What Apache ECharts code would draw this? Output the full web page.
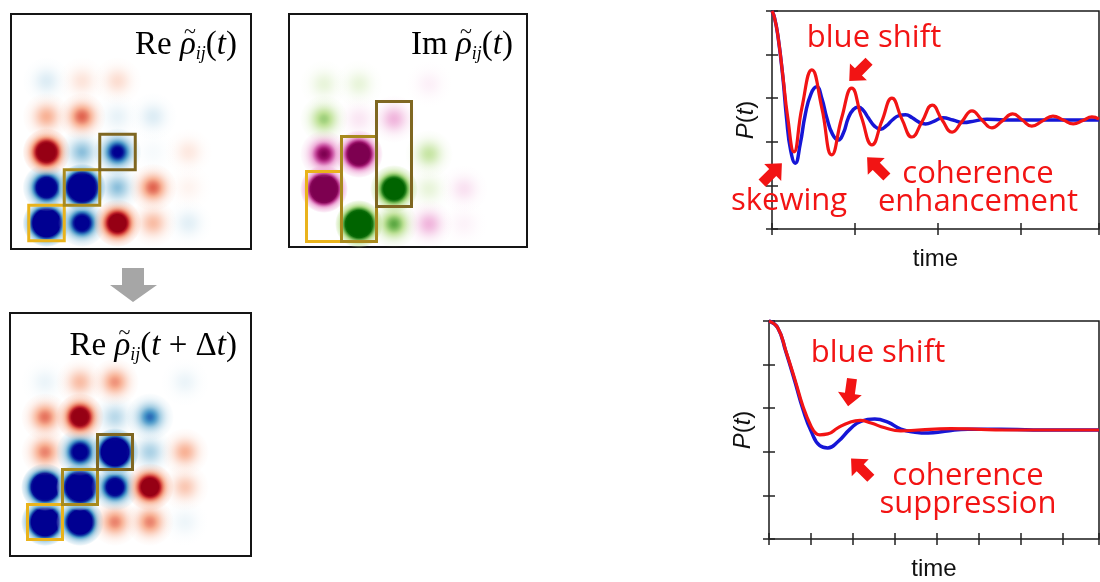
<!DOCTYPE html>
<html>
<head>
<meta charset="utf-8">
<script src="https://cdn.jsdelivr.net/npm/echarts@6/dist/echarts.min.js"></script>
<style>html,body{margin:0;padding:0;background:#fff}#c{width:1100px;height:582px}</style>
</head>
<body>
<div id="c"></div>
<script>
// ---- Data: density-matrix amplitudes, rows listed bottom -> top, columns left -> right ----
// Re rho(t): positive = blue, negative = red
const reNowRows = [
  [4.0, 1.5, -1.7, -0.3, 0.1, 0],
  [2.0, 4.5, 0.4, -0.6, -0.05, 0],
  [-1.9, 0.4, 1.15, 0.03, -0.1, 0],
  [-0.35, -0.6, 0.08, 0.12, 0, 0],
  [0.12, -0.12, -0.15, 0, 0, 0]
];
// Im rho(t): positive = magenta, negative = green
const imNowRows = [
  [0, -3.5, -0.65, 0.3, 0.05, 0],
  [3.5, 0, -2.2, -0.12, 0.12, 0],
  [1.0, 2.3, 0, -0.3, 0, 0],
  [-0.45, 0.1, 0.3, 0, 0, 0],
  [-0.12, -0.12, 0, 0.06, 0, 0]
];
// Re rho(t + dt)
const reNextRows = [
  [4.0, 3.0, -0.5, -0.5, 0.06, 0],
  [3.5, 4.5, 1.6, -1.7, -0.25, 0],
  [-0.5, 1.5, 4.0, 0.3, -0.35, 0],
  [-0.55, -1.6, 0.25, 0.7, 0, 0],
  [0.07, -0.3, -0.45, 0, 0.07, 0]
];
// highlighted cells: [colFrom, rowFrom, colTo, rowTo]
const reBoxes = [[1, 1, 1, 1], [2, 2, 2, 2], [3, 3, 3, 3]];
const imBoxes = [[1, 1, 1, 2], [2, 1, 2, 3], [3, 2, 3, 4]];

// P(t) curves: [time, P]
const topRed = [[0,5.0],[0.03,4.85],[0.07,4.45],[0.13,3.53],[0.19,2.55],[0.265,1.77],[0.36,2.78],[0.48,3.65],[0.60,2.78],[0.72,1.70],[0.84,2.55],[0.96,3.23],[1.08,2.55],[1.205,1.93],[1.325,2.48],[1.445,3.0],[1.565,2.52],[1.687,2.11],[1.81,2.47],[1.93,2.84],[2.05,2.5],[2.17,2.22],[2.29,2.47],[2.41,2.71],[2.53,2.5],[2.65,2.32],[2.775,2.48],[2.90,2.64],[3.015,2.5],[3.13,2.36],[3.26,2.48],[3.385,2.59],[3.51,2.5],[3.63,2.41],[3.745,2.49],[3.855,2.57],[3.94,2.52]];
const topBlue = [[0,5.0],[0.03,4.85],[0.07,4.45],[0.13,3.5],[0.175,2.55],[0.225,1.8],[0.28,1.51],[0.34,1.95],[0.40,2.62],[0.47,3.1],[0.54,3.26],[0.60,3.0],[0.66,2.55],[0.73,2.17],[0.80,2.04],[0.86,2.2],[0.92,2.55],[0.98,2.74],[1.04,2.80],[1.10,2.72],[1.16,2.55],[1.235,2.36],[1.31,2.29],[1.38,2.37],[1.45,2.50],[1.53,2.6],[1.61,2.62],[1.69,2.55],[1.77,2.45],[1.85,2.41],[1.95,2.47],[2.06,2.55],[2.18,2.5],[2.30,2.44],[2.45,2.48],[2.59,2.52],[2.8,2.5],[3.2,2.5],[3.6,2.5],[3.94,2.5]];
const botRed = [[0,5],[0.21,4.84],[0.40,4.32],[0.62,3.65],[0.81,3.04],[1.0,2.59],[1.12,2.42],[1.21,2.39],[1.40,2.41],[1.64,2.55],[1.93,2.68],[2.17,2.72],[2.43,2.66],[2.76,2.55],[3.14,2.48],[3.55,2.50],[3.95,2.52],[4.33,2.53],[4.9,2.52],[5.6,2.5],[6.5,2.5],[7.86,2.5]];
const botBlue = [[0,5],[0.21,4.84],[0.40,4.30],[0.62,3.6],[0.81,2.97],[1.0,2.48],[1.21,2.14],[1.40,2.09],[1.64,2.23],[1.93,2.52],[2.19,2.70],[2.52,2.75],[2.83,2.68],[3.14,2.52],[3.48,2.45],[3.79,2.43],[4.19,2.47],[4.74,2.52],[5.52,2.52],[6.3,2.5],[7.86,2.5]];
const yTicks = [0, 1, 2, 3, 4, 5];

// annotation arrows: [time, P, rotation]
const topArrows = [[1.05, 3.62, 135], [0.0, 1.28, -45], [1.265, 1.42, 45]];
const botArrows = [[1.93, 3.36, 172], [2.19, 1.62, 45]];

// ---- colour maps ----
const CM = {
  blue: [[0,[255,255,255]],[0.15,[222,235,247]],[0.35,[158,202,225]],[0.6,[66,146,198]],[0.8,[20,70,170]],[1,[0,0,145]]],
  red: [[0,[255,255,255]],[0.15,[254,228,214]],[0.35,[248,178,150]],[0.6,[225,100,80]],[0.8,[190,30,40]],[1,[150,0,20]]],
  mag: [[0,[255,255,255]],[0.15,[250,225,240]],[0.35,[238,170,215]],[0.6,[200,80,160]],[0.8,[160,20,110]],[1,[125,0,80]]],
  green: [[0,[255,255,255]],[0.15,[230,245,215]],[0.35,[190,225,150]],[0.6,[110,180,80]],[0.8,[40,130,30]],[1,[0,100,0]]]
};
function cmap(m, I) {
  for (let k = 1; k < m.length; k++) {
    if (I <= m[k][0]) {
      const a = m[k-1], b = m[k], f = (I - a[0]) / (b[0] - a[0]);
      return a[1].map((v, j) => Math.round(v + (b[1][j] - v) * f));
    }
  }
  return m[m.length-1][1];
}
const R = 24, S = 12, N = 14;
function blobGradient(v, pos, neg) {
  const A = Math.abs(v), m = v >= 0 ? pos : neg;
  const stops = [];
  for (let i = 0; i <= N; i++) {
    const t = i / N, r = t * R;
    const I = Math.min(1, A * Math.exp(-(r * r) / (S * S)));
    let rgb, a;
    if (I >= 0.35) { rgb = cmap(m, I); a = 1; } else { rgb = cmap(m, 0.35); a = I / 0.35; }
    if (i === N) a = 0;
    stops.push({ offset: t, color: 'rgba(' + rgb.join(',') + ',' + a.toFixed(3) + ')' });
  }
  return new echarts.graphic.RadialGradient(0.5, 0.5, 0.5, stops);
}
function blobs(rows, pos, neg) {
  const out = [];
  rows.forEach((row, ri) => row.forEach((v, ci) => {
    if (v !== 0) out.push({ value: [ci + 1, ri + 1], itemStyle: { color: blobGradient(v, pos, neg), opacity: 1 } });
  }));
  return out;
}
const boxColors = ['#e9b31c', '#a88a1f', '#7f6722'];
function boxAreas(boxes) {
  return boxes.map((b, i) => [
    { coord: [b[0] - 0.5, b[1] - 0.5], itemStyle: { color: 'rgba(0,0,0,0)', borderColor: boxColors[i], borderWidth: 3, opacity: 1 } },
    { coord: [b[2] + 0.5, b[3] + 0.5] }
  ]);
}

const serif = "'Liberation Serif','DejaVu Serif',serif";
const sans = "'Liberation Sans',Arial,sans-serif";
const annFont = "'Open Sans','Noto Sans',sans-serif";
const RED = '#f21414', BLUE = '#1616d6';

function hiddenAxis(gi, min, max) {
  return { type: 'value', gridIndex: gi, min: min, max: max, show: false };
}
function frameAxis(gi, pos, min, max, name, gap, rich) {
  const isX = pos === 'bottom' || pos === 'top';
  const ax = {
    type: 'value', gridIndex: gi, position: pos, min: min, max: max, interval: 1,
    axisLine: { show: false }, splitLine: { show: false }, axisLabel: { show: false },
    axisTick: { show: true, inside: true, length: 6, lineStyle: { color: '#222', width: 1.5 } }
  };
  if (name) {
    ax.name = name; ax.nameLocation = 'middle'; ax.nameGap = gap;
    ax.nameTextStyle = { fontFamily: sans, fontSize: 24, color: '#111', rich: rich };
    if (!isX) ax.nameRotate = 90;
  }
  return ax;
}
const pRich = {
  i: { fontFamily: sans, fontSize: 24, fontStyle: 'italic', color: '#111' },
  n: { fontFamily: sans, fontSize: 24, color: '#111' }
};
const arrowPath = 'path://M12,0 L24,13 L17,13 L17,28 L7,28 L7,13 L0,13 Z';
function arrowMarks(list) {
  return {
    silent: true, symbol: arrowPath, symbolSize: [24, 28], itemStyle: { color: RED }, label: { show: false },
    data: list.map(a => ({ coord: [a[0], a[1]], symbolRotate: a[2] }))
  };
}
function lineSeries(xi, data, color, w, marks) {
  const s = { type: 'line', xAxisIndex: xi, yAxisIndex: xi, data: data, smooth: 0.5, showSymbol: false, clip: false,
    lineStyle: { color: color, width: w }, itemStyle: { color: color }, silent: true };
  if (marks) s.markPoint = arrowMarks(marks);
  return s;
}

// ---- matrix titles (serif, with tilde over rho) ----
const TS = 33, SS = 18;
const tfont = { r: TS + "px " + serif, i: "italic " + TS + "px " + serif, s: "italic " + SS + "px " + serif };
const titleRich = {
  r: { fontFamily: serif, fontSize: TS, color: '#111' },
  i: { fontFamily: serif, fontSize: TS, fontStyle: 'italic', color: '#111' },
  s: { fontFamily: serif, fontSize: SS, fontStyle: 'italic', color: '#111', padding: [18, 0, 0, 0] }
};
const mctx = document.createElement('canvas').getContext('2d');
function tw(txt, st) { mctx.font = tfont[st]; return mctx.measureText(txt).width; }
function title(xRight, y, tokens) {
  const text = tokens.map(t => '{' + t[1] + '|' + t[0] + '}').join('');
  let after = 0, rhoW = 0;
  for (let k = tokens.length - 1; k >= 0; k--) {
    const w = tw(tokens[k][0], tokens[k][1]);
    if (tokens[k][0] === 'ρ') { rhoW = w; break; }
    after += w;
  }
  const rhoCx = xRight - after - rhoW / 2 + 2;
  return [
    { type: 'text', x: xRight, y: y, z: 20, style: { text: text, rich: titleRich, align: 'right', verticalAlign: 'middle' } },
    { type: 'text', x: rhoCx, y: y - 13, z: 21, style: { text: '~', fill: '#111', fontFamily: serif, fontSize: 22, align: 'center', verticalAlign: 'middle' } }
  ];
}
function ann(x, y, txt) {
  return { type: 'text', x: x, y: y, z: 20, style: { text: txt, fill: RED, fontFamily: annFont, fontSize: 31, lineHeight: 28, align: 'center', verticalAlign: 'middle' } };
}

const option = {
  animation: false,
  backgroundColor: '#fff',
  grid: [
    { left: 11, top: 14, width: 240, height: 235, show: true, borderColor: '#151515', borderWidth: 2 },
    { left: 289, top: 14, width: 238, height: 233, show: true, borderColor: '#151515', borderWidth: 2 },
    { left: 10, top: 313, width: 241, height: 243, show: true, borderColor: '#151515', borderWidth: 2 },
    { left: 772, top: 11, width: 327, height: 218, show: true, borderColor: '#1a1a1a', borderWidth: 1.5 },
    { left: 769, top: 321, width: 330, height: 222, show: true, borderColor: '#1a1a1a', borderWidth: 1.5 }
  ],
  xAxis: [
    hiddenAxis(0, 0, 6.76), hiddenAxis(1, 0, 6.8), hiddenAxis(2, 0, 6.886),
    frameAxis(3, 'bottom', 0, 3.94, 'time', 18),
    frameAxis(4, 'bottom', 0, 7.86, 'time', 18),
    frameAxis(3, 'top', 0, 3.94), frameAxis(4, 'top', 0, 7.86)
  ],
  yAxis: [
    hiddenAxis(0, 0.27, 6.89), hiddenAxis(1, 0.343, 7.0), hiddenAxis(2, 0.03, 6.973),
    frameAxis(3, 'left', yTicks[0], yTicks[yTicks.length-1], '{i|P}{n|(}{i|t}{n|)}', 14, pRich),
    frameAxis(4, 'left', yTicks[0], yTicks[yTicks.length-1], '{i|P}{n|(}{i|t}{n|)}', 14, pRich),
    frameAxis(3, 'right', yTicks[0], yTicks[yTicks.length-1]), frameAxis(4, 'right', yTicks[0], yTicks[yTicks.length-1])
  ],
  series: [
    { type: 'scatter', xAxisIndex: 0, yAxisIndex: 0, symbolSize: 2 * R, data: blobs(reNowRows, CM.blue, CM.red), silent: true,
      itemStyle: { opacity: 1 }, markArea: { silent: true, z: 10, data: boxAreas(reBoxes) } },
    { type: 'scatter', xAxisIndex: 1, yAxisIndex: 1, symbolSize: 2 * R, data: blobs(imNowRows, CM.mag, CM.green), silent: true,
      itemStyle: { opacity: 1 }, markArea: { silent: true, z: 10, data: boxAreas(imBoxes) } },
    { type: 'scatter', xAxisIndex: 2, yAxisIndex: 2, symbolSize: 2 * R, data: blobs(reNextRows, CM.blue, CM.red), silent: true,
      itemStyle: { opacity: 1 }, markArea: { silent: true, z: 10, data: boxAreas(reBoxes) } },
    lineSeries(3, topBlue, BLUE, 3.5),
    lineSeries(3, topRed, RED, 3.2, topArrows),
    lineSeries(4, botBlue, BLUE, 3.5),
    lineSeries(4, botRed, RED, 3.2, botArrows)
  ],
  graphic: [
    { type: 'polygon', z: 20, shape: { points: [[122,268],[144,268],[144,285],[157,285],[133,302],[110,285],[122,285]] }, style: { fill: '#a6a6a6' } }
  ].concat(
    title(237, 45, [['Re ', 'r'], ['ρ', 'i'], ['ij', 's'], ['(', 'r'], ['t', 'i'], [')', 'r']]),
    title(513, 45, [['Im ', 'r'], ['ρ', 'i'], ['ij', 's'], ['(', 'r'], ['t', 'i'], [')', 'r']]),
    title(237, 346, [['Re ', 'r'], ['ρ', 'i'], ['ij', 's'], ['(', 'r'], ['t', 'i'], [' + Δ', 'r'], ['t', 'i'], [')', 'r']]),
    [
      ann(874, 38, 'blue shift'),
      ann(789, 201, 'skewing'),
      ann(978, 188, 'coherence\nenhancement'),
      ann(878, 353, 'blue shift'),
      ann(968, 490, 'coherence\nsuppression')
    ]
  )
};
const chart = echarts.init(document.getElementById('c'), null, { renderer: 'canvas' });
chart.setOption(option);
</script>
</body>
</html>
